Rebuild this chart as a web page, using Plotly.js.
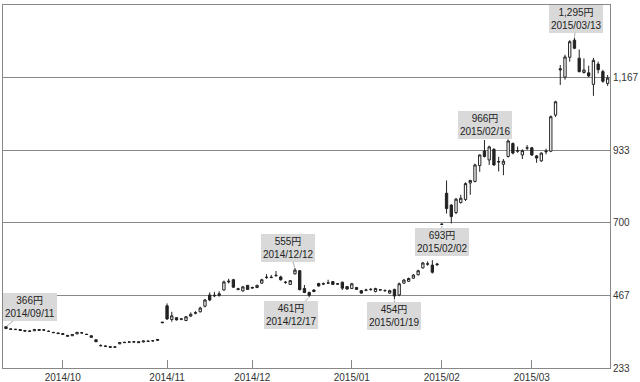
<!DOCTYPE html>
<html>
<head>
<meta charset="utf-8">
<script src="https://cdn.plot.ly/plotly-3.0.1.min.js"></script>
<style>html,body{margin:0;padding:0;background:#fff;}#chart{width:640px;height:382px;}</style>
</head>
<body>
<div id="chart"></div>
<script>
// Trading days (category axis)
const dates = [
"2014-09-11","2014-09-12","2014-09-16","2014-09-17","2014-09-18","2014-09-19","2014-09-22","2014-09-24","2014-09-25","2014-09-26","2014-09-29","2014-09-30",
"2014-10-01","2014-10-02","2014-10-03","2014-10-06","2014-10-07","2014-10-08","2014-10-09","2014-10-10","2014-10-14","2014-10-15","2014-10-16","2014-10-17","2014-10-20","2014-10-21","2014-10-22","2014-10-23","2014-10-24","2014-10-27","2014-10-28","2014-10-29","2014-10-30","2014-10-31",
"2014-11-04","2014-11-05","2014-11-06","2014-11-07","2014-11-10","2014-11-11","2014-11-12","2014-11-13","2014-11-14","2014-11-17","2014-11-18","2014-11-19","2014-11-20","2014-11-21","2014-11-25","2014-11-26","2014-11-27","2014-11-28",
"2014-12-01","2014-12-02","2014-12-03","2014-12-04","2014-12-05","2014-12-08","2014-12-09","2014-12-10","2014-12-11","2014-12-12","2014-12-15","2014-12-16","2014-12-17","2014-12-18","2014-12-19","2014-12-22","2014-12-24","2014-12-25","2014-12-26","2014-12-29","2014-12-30",
"2015-01-05","2015-01-06","2015-01-07","2015-01-08","2015-01-09","2015-01-13","2015-01-14","2015-01-15","2015-01-16","2015-01-19","2015-01-20","2015-01-21","2015-01-22","2015-01-23","2015-01-26","2015-01-27","2015-01-28","2015-01-29","2015-01-30",
"2015-02-02","2015-02-03","2015-02-04","2015-02-05","2015-02-06","2015-02-09","2015-02-10","2015-02-12","2015-02-13","2015-02-16","2015-02-17","2015-02-18","2015-02-19","2015-02-20","2015-02-23","2015-02-24","2015-02-25","2015-02-26","2015-02-27",
"2015-03-02","2015-03-03","2015-03-04","2015-03-05","2015-03-06","2015-03-09","2015-03-10","2015-03-11","2015-03-12","2015-03-13","2015-03-16","2015-03-17","2015-03-18","2015-03-19","2015-03-20","2015-03-23","2015-03-24"
];

const open = [
366,359,358,357,354,351,353,354,356,351,348,346,
344,335,337,343,347,342,337,324,306,304,302,300,311,316,316,318,318,317,320,320,322,381,
433,389,395,390,386,400,409,414,432,468,465,466,484,510,517,485,481,499,
490,492,506,524,524,530,526,508,502,536,546,489,476,484,505,503,506,511,504,509,495,
489,492,482,483,485,479,485,482,474,486,468,506,512,522,533,555,567,564,565,
696,795,757,733,765,775,828,833,884,931,902,936,895,888,913,955,930,918,940,
941,915,899,928,930,1046,1195,1168,1232,1287,1229,1183,1182,1145,1210,1186,1148
];
const high = [
366,360,359,357,355,355,359,358,357,354,349,347,
345,339,342,349,348,343,338,325,309,306,303,304,316,318,319,320,319,322,321,322,326,381,
441,414,397,394,400,412,416,430,455,476,478,480,514,520,520,491,497,500,
495,501,520,535,532,545,530,513,516,555,548,500,479,486,507,508,517,513,506,511,497,
507,494,484,488,490,491,486,486,485,488,508,519,524,535,549,574,576,580,571,
697,836,760,780,790,830,838,890,920,966,948,940,912,905,968,958,945,936,950,
944,918,926,938,1045,1092,1207,1240,1287,1295,1257,1228,1205,1230,1218,1192,1175
];
const low = [
359,356,355,353,351,350,352,353,353,349,346,343,
340,334,336,342,344,340,331,316,303,301,299,298,310,314,315,315,314,316,318,319,321,379,
388,382,386,387,384,398,406,412,428,448,461,463,482,505,491,484,479,484,
488,490,504,520,522,527,514,504,500,534,483,474,461,477,495,500,503,500,501,484,485,
487,484,472,480,482,477,483,479,472,454,464,504,510,520,531,553,562,537,562,
693,730,698,728,762,770,790,830,864,910,886,883,865,853,910,920,925,905,934,
915,893,896,920,927,1040,1143,1160,1218,1258,1183,1180,1168,1108,1180,1150,1140
];
const close = [
360,358,357,354,352,352,357,357,355,351,347,344,
341,338,341,348,346,341,332,318,305,303,300,301,315,315,317,317,315,320,319,321,325,379,
391,401,388,391,398,406,411,426,452,452,467,472,510,512,493,488,494,486,
492,499,517,525,525,531,517,509,514,548,485,476,467,479,497,504,507,502,503,490,487,
504,486,474,484,486,489,484,482,482,465,504,516,521,532,546,571,568,541,567,
695,746,720,776,779,826,836,886,918,913,944,886,897,898,963,924,932,932,941,
918,908,924,930,1041,1089,1192,1233,1282,1261,1186,1191,1172,1222,1192,1155,1165
];

// Axis ticks
const xTickVals = ["2014-10-01","2014-11-04","2014-12-01","2015-01-05","2015-02-02","2015-03-02"];
const xTickText = ["2014/10","2014/11","2014/12","2015/01","2015/02","2015/03"];
const yTickVals = [233.33,466.67,700,933.33,1166.67,1400];
const yTickText = ["233","467","700","933","1,167","1,400"];

// Callout labels: [date, value, text, ax, ay]
const calloutDates = ["2014-09-11","2014-12-12","2014-12-17","2015-01-19","2015-02-02","2015-02-16","2015-03-13"];
const calloutValues = [366,555,461,454,693,966,1295];
const calloutTexts = ["366円<br>2014/09/11","555円<br>2014/12/12","461円<br>2014/12/17","454円<br>2015/01/19","693円<br>2015/02/02","966円<br>2015/02/16","1,295円<br>2015/03/13"];
const calloutAx = [24,-7,-18,0,0,1,2];
const calloutAy = [-20,-20,18,17,17,-15,-19];

const FONT = "'Liberation Sans', Arial, 'Noto Sans CJK JP', sans-serif";

const trace = {
  type: 'candlestick',
  x: dates, open: open, high: high, low: low, close: close,
  increasing: {line: {color: '#222', width: 1}, fillcolor: '#ffffff'},
  decreasing: {line: {color: '#222', width: 1}, fillcolor: '#222222'},
  whiskerwidth: 0,
  hoverinfo: 'skip'
};

const annotations = calloutDates.map((d, i) => ({
  x: d, y: calloutValues[i], xref: 'x', yref: 'y',
  text: calloutTexts[i],
  showarrow: true, arrowhead: 0, arrowwidth: 1, arrowcolor: '#aaa',
  ax: calloutAx[i], ay: calloutAy[i], standoff: 1,
  bgcolor: '#d9d9d9', borderpad: 2, borderwidth: 0,
  font: {family: FONT, size: 10, color: '#222'}
}));

const layout = {
  width: 640, height: 382,
  margin: {l: 3, r: 30, t: 5, b: 14, pad: 0},
  paper_bgcolor: '#ffffff', plot_bgcolor: '#ffffff',
  showlegend: false,
  font: {family: FONT, size: 10, color: '#333'},
  xaxis: {
    type: 'category', rangeslider: {visible: false},
    range: [-0.63, 127.5],
    tickvals: xTickVals, ticktext: xTickText,
    ticks: 'inside', ticklen: 8, tickcolor: '#888', tickwidth: 1,
    showgrid: false, showline: true, mirror: true, linecolor: '#888', linewidth: 1,
    tickfont: {family: FONT, size: 10, color: '#333'}, tickangle: 0
  },
  yaxis: {
    side: 'right', range: [233.33, 1400],
    tickvals: yTickVals, ticktext: yTickText,
    showgrid: true, gridcolor: '#888', gridwidth: 1,
    showline: true, mirror: true, linecolor: '#888', linewidth: 1,
    zeroline: false, ticks: '',
    tickfont: {family: FONT, size: 10, color: '#333'}
  },
  annotations: annotations
};

Plotly.newPlot('chart', [trace], layout, {staticPlot: true, displayModeBar: false});
</script>
</body>
</html>
